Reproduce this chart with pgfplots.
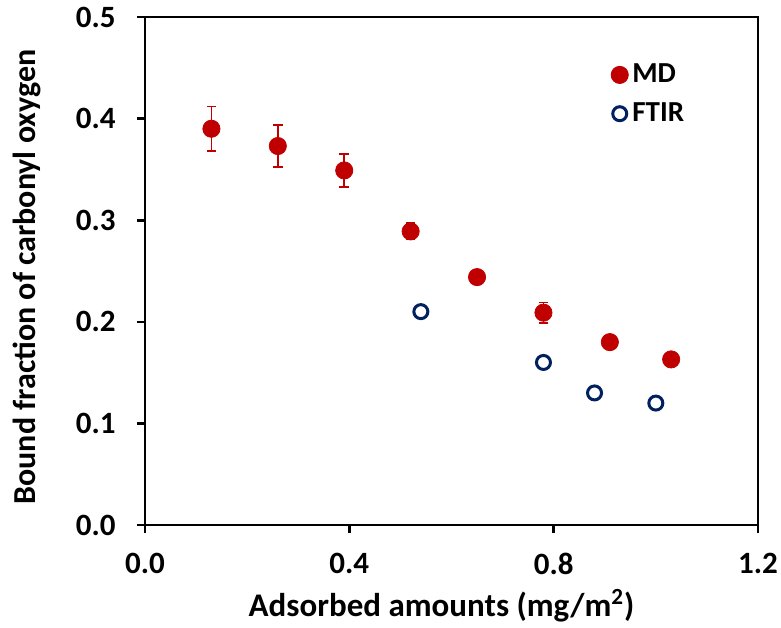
\documentclass[border=0pt]{standalone}
\usepackage{pgfplots}
\pgfplotsset{compat=1.18}
\usepackage{fontspec}
\setmainfont{Carlito}
\definecolor{mdred}{RGB}{192,0,0}
\definecolor{ftirblue}{RGB}{0,32,96}
\begin{document}
\begin{tikzpicture}
\begin{axis}[
    scale only axis,
    width=306.5pt, height=254pt,
    xmin=0, xmax=1.2, ymin=0, ymax=0.5,
    xtick={0,0.4,0.8,1.2}, ytick={0,0.1,0.2,0.3,0.4,0.5},
    xtick pos=bottom, ytick pos=left,
    axis line style={line width=1.3pt},
    tick style={line width=1.3pt, black},
    tick align=outside, major tick length=4pt,
    /pgf/number format/fixed,
    /pgf/number format/fixed zerofill,
    /pgf/number format/precision=1,
    /pgf/number format/assume math mode=true,
    ticklabel style={font=\fontsize{15.5}{17}\selectfont\bfseries, inner sep=1.5pt},
    xticklabel style={yshift=-8.5pt},
    yticklabel style={xshift=-9pt},
    xlabel={Adsorbed amounts (mg/m\textsuperscript{2})},
    ylabel={Bound fraction of carbonyl oxygen},
    xlabel style={font=\fontsize{16.5}{18}\selectfont\bfseries, inner sep=0pt,
        at={(axis description cs:0.4837,-0.181)}, anchor=base},
    ylabel style={font=\fontsize{16}{18}\selectfont\bfseries, inner sep=0pt,
        at={(axis description cs:-0.1794,0.488)}, anchor=base},
    legend style={draw=none, fill=none, at={(0.75,0.924)}, anchor=north west,
        font=\fontsize{14.5}{16}\selectfont\bfseries, row sep=4.5pt},
    legend cell align=left,
    clip=false,
]
\addplot[only marks, mark=*, mark size=4.3pt, color=mdred, mark options={fill=mdred, draw=mdred},
    error bars/.cd, y dir=both, y explicit,
    error bar style={color=mdred, line width=0.9pt},
    error mark options={rotate=90, mark size=2.4pt, line width=0.9pt, color=mdred}]
    table[x=x, y=y, y error=e] {
x y e
0.13 0.390 0.022
0.26 0.373 0.021
0.39 0.349 0.016
0.52 0.289 0.008
0.65 0.244 0.004
0.78 0.209 0.010
0.91 0.180 0.004
1.03 0.163 0.004
};
\addlegendentry{MD}
\addplot[only marks, mark=o, mark size=3.5pt, color=ftirblue, mark options={line width=1.5pt, draw=ftirblue}]
    table {
0.54 0.210
0.78 0.160
0.88 0.130
1.00 0.120
};
\addlegendentry{FTIR}
\end{axis}
\pgfresetboundingbox
\path ([shift={(-72.5pt,-51pt)}]current axis.south west)
    rectangle ([shift={(11.5pt,8.5pt)}]current axis.north east);
\end{tikzpicture}
\end{document}
